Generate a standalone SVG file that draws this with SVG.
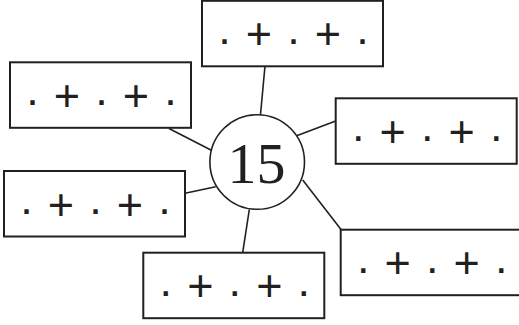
<svg xmlns="http://www.w3.org/2000/svg" width="519" height="325" viewBox="0 0 519 325">
<style>
.box{fill:#fff;stroke:#231f20;stroke-width:2}
.lbl{font-family:"Liberation Sans",Arial,sans-serif;font-size:45px;fill:#231f20;text-anchor:middle}
.conn line{stroke:#231f20;stroke-width:1.6}
.hub{fill:#fff;stroke:#231f20;stroke-width:1.6}
.num{font-family:"Liberation Serif","Times New Roman",serif;font-size:58px;fill:#231f20;text-anchor:middle}
</style>
<defs>
<g id="card">
<rect class="box" x="0" y="0" width="181" height="65.5"/>
<text class="lbl" x="22.5 40 57 74 91.5 109 126 143 160.5" y="43 43 48.5 43 43 43 48.5 43 43">. + . + .</text>
</g>
</defs>
<g id="connectors" class="conn">
<line x1="265" y1="66" x2="260.5" y2="114.5"/>
<line x1="169" y1="128.5" x2="212.3" y2="150.7"/>
<line x1="185" y1="193.3" x2="215.7" y2="186.7"/>
<line x1="296" y1="136" x2="335.7" y2="121"/>
<line x1="302.7" y1="180" x2="341" y2="229.5"/>
<line x1="249.3" y1="209.5" x2="242.7" y2="252.7"/>
</g>
<g id="hub">
<circle class="hub" cx="257.2" cy="162" r="47.3"/>
<text class="num" x="256.5" y="182.7">15</text>
</g>
<g id="node-top" transform="translate(202,0.8)"><use href="#card"/></g>
<g id="node-topleft" transform="translate(10,62.3)"><use href="#card"/></g>
<g id="node-right" transform="translate(335.7,98.3)"><use href="#card"/></g>
<g id="node-left" transform="translate(4,171)"><use href="#card"/></g>
<g id="node-bottom" transform="translate(143.3,252.7)"><use href="#card"/></g>
<g id="node-bottomright" transform="translate(340.7,229.7)"><use href="#card"/></g>
</svg>
